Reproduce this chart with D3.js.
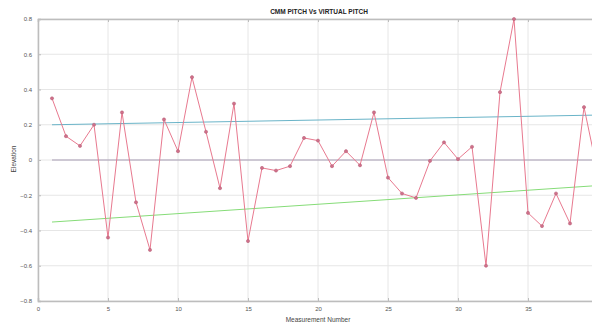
<!DOCTYPE html>
<html>
<head>
<meta charset="utf-8">
<script src="https://cdn.jsdelivr.net/npm/d3@7"></script>
<style>
  body { margin: 0; background: #fff; }
  svg { display: block; font-family: "Liberation Sans", Arial, sans-serif; }
  .grid line { stroke: #e6e6e6; stroke-width: 1; }
  .axis path, .axis line { stroke: #bdbdbd; }
  .axis text { fill: #555; font-size: 6px; }
</style>
</head>
<body>
<div id="chart"></div>
<script>
// measurement values (CMM pitch minus virtual pitch)
const measurement = d3.range(1, 41);
const pitchDiff = [
  0.35, 0.135, 0.08, 0.2, -0.44, 0.27, -0.24, -0.51, 0.23, 0.05,
  0.47, 0.16, -0.16, 0.32, -0.46, -0.045, -0.06, -0.035, 0.125, 0.11,
  -0.035, 0.05, -0.03, 0.27, -0.1, -0.19, -0.215, -0.005, 0.1, 0.005,
  0.075, -0.6, 0.385, 0.8, -0.3, -0.375, -0.19, -0.36, 0.3, -0.08
];
// reference lines: [start, end] over measurements 1..40
const upperLine = [0.2, 0.255];
const lowerLine = [-0.352, -0.145];
const zeroLine = [0, 0];
const xTicks = [0, 5, 10, 15, 20, 25, 30, 35, 40];
const yTicks = [-0.8, -0.6, -0.4, -0.2, 0, 0.2, 0.4, 0.6, 0.8];

const W = 592, H = 327;
const margin = { top: 19, left: 38 };
const plotW = 560, plotH = 282;

const svg = d3.select('#chart').append('svg').attr('width', W).attr('height', H);

const x = d3.scaleLinear().domain([0, 40]).range([margin.left, margin.left + plotW]);
const y = d3.scaleLinear().domain([-0.8, 0.8]).range([margin.top + plotH, margin.top]);

// grid
const $grid = svg.append('g').attr('class', 'grid');
$grid.selectAll('.gx').data(xTicks).join('line')
  .attr('x1', d => x(d)).attr('x2', d => x(d))
  .attr('y1', y(0.8)).attr('y2', y(-0.8));
$grid.selectAll('.gy').data(yTicks).join('line')
  .attr('x1', x(0)).attr('x2', x(40))
  .attr('y1', d => y(d)).attr('y2', d => y(d));

// axes (box); the 40 label falls outside the cropped picture
const fmt = d => (d === 0 ? '0' : d3.format('.1f')(d));
svg.append('g').attr('class', 'axis')
  .attr('transform', `translate(0,${y(-0.8)})`)
  .call(d3.axisBottom(x).tickValues(xTicks).tickSize(-3).tickPadding(6)
    .tickFormat(d => (d === 40 ? '' : d3.format('d')(d))));
svg.append('g').attr('class', 'axis')
  .attr('transform', `translate(0,${y(0.8)})`)
  .call(d3.axisTop(x).tickValues(xTicks).tickSize(-3).tickFormat(''));
svg.append('g').attr('class', 'axis')
  .attr('transform', `translate(${x(0)},0)`)
  .call(d3.axisLeft(y).tickValues(yTicks).tickSize(-3).tickPadding(6).tickFormat(fmt));
svg.selectAll('.axis path').attr('stroke-width', 1.5);

// reference lines
const refLine = (vals, color) => {
  svg.append('line')
    .attr('x1', x(measurement[0])).attr('x2', x(measurement[measurement.length - 1]))
    .attr('y1', y(vals[0])).attr('y2', y(vals[1]))
    .attr('stroke', color).attr('stroke-width', 1);
};
refLine(upperLine, '#6ab4c8');
refLine(zeroLine, '#a89db4');
refLine(lowerLine, '#86dc78');

// data series
const pts = measurement.map((m, i) => ({ m, v: pitchDiff[i] }));
svg.append('path').datum(pts)
  .attr('fill', 'none').attr('stroke', '#e8798f').attr('stroke-width', 1)
  .attr('d', d3.line().x(d => x(d.m)).y(d => y(d.v)));
svg.selectAll('.pt').data(pts).join('circle')
  .attr('cx', d => x(d.m)).attr('cy', d => y(d.v)).attr('r', 1.6)
  .attr('fill', '#d0708a').attr('stroke', '#b35a72').attr('stroke-width', 0.5);

// labels
svg.append('text').attr('x', 319).attr('y', 14).attr('text-anchor', 'middle')
  .attr('font-size', 6.5).attr('font-weight', 'bold').attr('fill', '#222')
  .text('CMM PITCH Vs VIRTUAL PITCH');
svg.append('text').attr('x', 318).attr('y', 322).attr('text-anchor', 'middle')
  .attr('font-size', 6.5).attr('fill', '#444').text('Measurement Number');
svg.append('text').attr('transform', 'translate(16,159) rotate(-90)')
  .attr('text-anchor', 'middle').attr('font-size', 6.5).attr('fill', '#444').text('Elevation');
</script>
</body>
</html>
